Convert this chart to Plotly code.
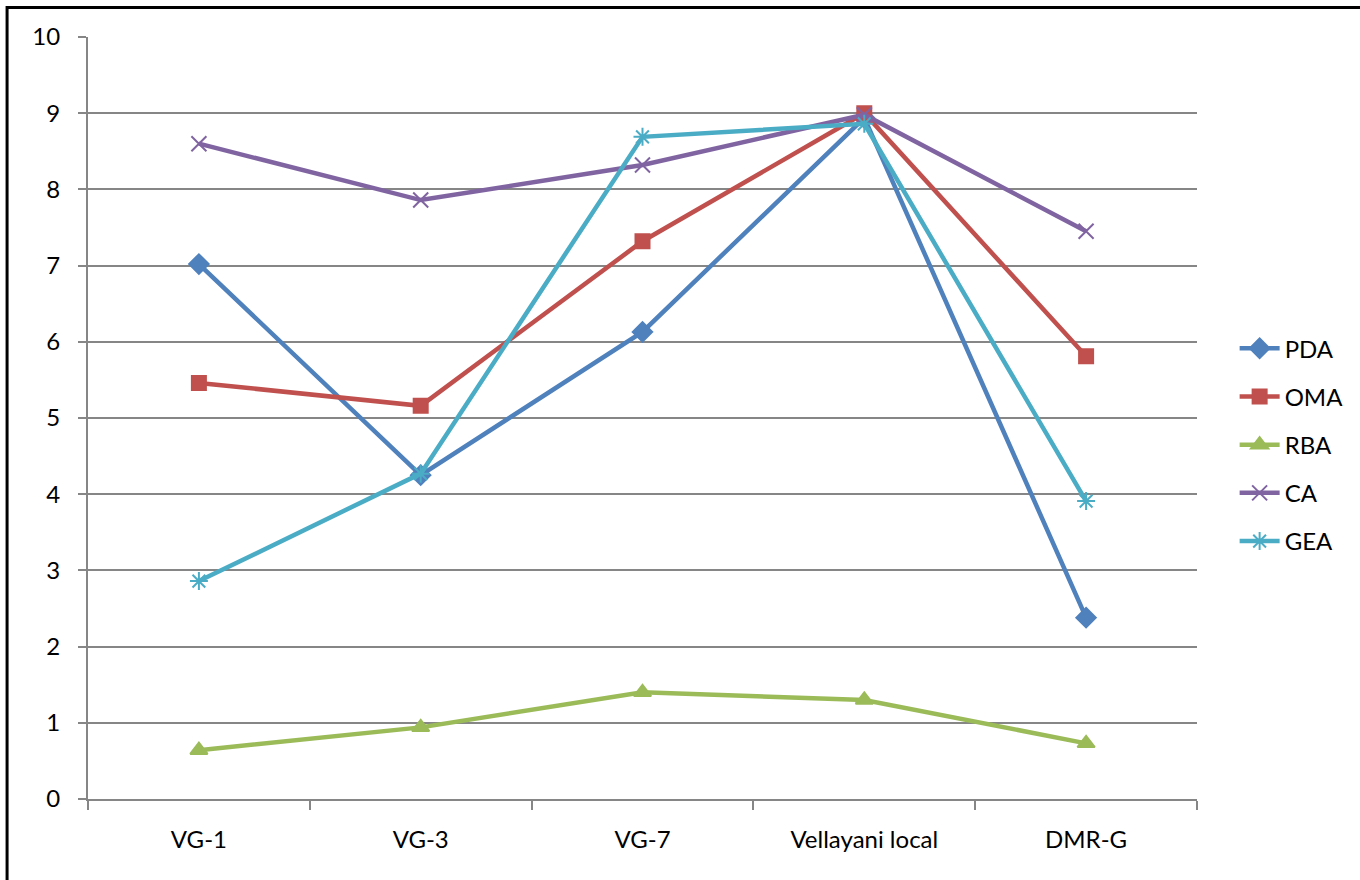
import plotly.graph_objects as go

categories = ["VG-1", "VG-3", "VG-7", "Vellayani local", "DMR-G"]
pda = [7.02, 4.25, 6.13, 8.94, 2.38]
oma = [5.46, 5.16, 7.32, 9.00, 5.81]
rba = [0.64, 0.94, 1.40, 1.30, 0.73]
ca = [8.60, 7.86, 8.32, 8.98, 7.45]
gea = [2.86, 4.27, 8.69, 8.86, 3.91]

series = [
    ("PDA", pda, "#4F81BD", "diamond", 15),
    ("OMA", oma, "#C0504D", "square", 14),
    ("RBA", rba, "#9BBB59", "triangle-up", 15),
    ("CA", ca, "#8064A2", "x-thin-open", 15),
    ("GEA", gea, "#4BACC6", "asterisk-open", 15),
]

fig = go.Figure()
for name, vals, color, sym, size in series:
    fig.add_trace(go.Scatter(
        x=categories, y=vals, name=name, mode="lines+markers",
        legendgroup=name,
        line=dict(color=color, width=4.5),
        marker=dict(symbol=sym, size=size, color=color,
                    line=dict(color=color, width=2)),
    ))

grid = "#868686"
fig.update_layout(
    width=1360, height=880,
    margin=dict(l=88, r=162, t=37, b=81),
    paper_bgcolor="white", plot_bgcolor="white",
    font=dict(family="Lato, Open Sans, sans-serif", size=24, color="black"),
    showlegend=True,
    legend=dict(x=1.033, xanchor="left", y=0.465, yanchor="middle",
                tracegroupgap=14, font=dict(size=24),
                itemwidth=40),
    xaxis=dict(type="category", showgrid=False, showline=True,
               linecolor=grid, linewidth=2, ticks="outside",
               tickson="boundaries", ticklen=9, tickcolor=grid, tickwidth=2,
               ticklabelstandoff=18, range=[-0.5, 4.5]),
    yaxis=dict(range=[0, 10], dtick=1, showgrid=True, gridcolor=grid,
               gridwidth=1.6, showline=True, linecolor=grid, linewidth=2,
               ticks="outside", ticklen=8, tickcolor=grid, tickwidth=2,
               ticklabelstandoff=13, zeroline=False),
    shapes=[dict(type="rect", xref="paper", yref="paper",
                 x0=(7 - 88) / 1110, x1=1.3, y0=-0.3, y1=(799 - 7.5) / 762,
                 line=dict(color="black", width=3), layer="above")],
)

fig.write_html("out.html")
